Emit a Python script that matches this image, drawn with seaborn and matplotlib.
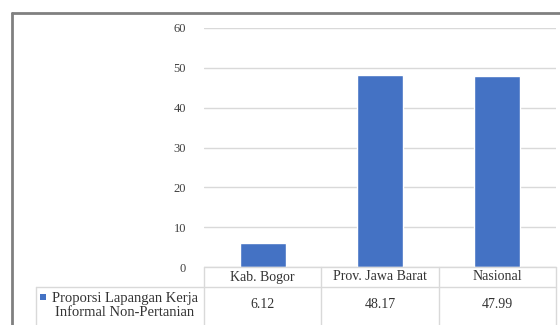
import matplotlib
matplotlib.use("Agg")
import matplotlib.pyplot as plt
from matplotlib.lines import Line2D
from matplotlib.patches import Rectangle
import seaborn as sns
import pandas as pd

categories = ["Kab. Bogor", "Prov. Jawa Barat", "Nasional"]
values = [6.12, 48.17, 47.99]
value_labels = ["6.12", "48.17", "47.99"]
series_name = "Proporsi Lapangan Kerja\nInformal Non-Pertanian"
y_ticks = [0, 10, 20, 30, 40, 50, 60]

sns.set_theme(style="white")
plt.rcParams["font.family"] = "serif"
plt.rcParams["font.serif"] = ["Liberation Serif", "DejaVu Serif"]

W, H = 560, 325
fig = plt.figure(figsize=(W / 100, H / 100), dpi=100)
fig.patch.set_facecolor("white")

def fx(px):
    return px / W

def fy(py):
    return 1 - py / H

ax = fig.add_axes([fx(204), fy(267), fx(556) - fx(204), fy(28) - fy(267)])
df = pd.DataFrame({"cat": categories, "val": values})
sns.barplot(data=df, x="cat", y="val", color="#4472C4", saturation=1,
            width=0.39, ax=ax)
ax.set_ylim(0, 60)
ax.set_xlim(-0.5, len(categories) - 0.5)
ax.set_yticks(y_ticks)
ax.set_xticks([])
ax.set_xlabel("")
ax.set_ylabel("")
ax.yaxis.grid(True, color="#d9d9d9", linewidth=1)
ax.set_axisbelow(True)
for s in ax.spines.values():
    s.set_visible(False)
ax.tick_params(axis="y", length=0, pad=13, labelsize=9, labelcolor="#404040")

grid_col = "#d9d9d9"
txt_col = "#333333"

def hline(x0, x1, y, **kw):
    fig.add_artist(Line2D([fx(x0), fx(x1)], [fy(y), fy(y)], **kw))

def vline(x, y0, y1, **kw):
    fig.add_artist(Line2D([fx(x), fx(x)], [fy(y0), fy(y1)], **kw))

# data table beneath the plot
col_edges = [204, 321, 439, 556]
hline(204, 556, 267, color=grid_col, lw=1)
hline(36, 556, 287, color=grid_col, lw=1)
for xe in col_edges:
    vline(xe, 267, 330, color=grid_col, lw=1)
vline(36, 287, 330, color=grid_col, lw=1)

for i, (c, v) in enumerate(zip(categories, value_labels)):
    xc = ax.transData.transform((i, 0))[0] / fig.dpi / fig.get_figwidth()
    fig.text(xc, fy(277), c, ha="center", va="center", fontsize=10, color=txt_col)
    fig.text(xc, fy(305), v, ha="center", va="center", fontsize=10, color=txt_col)

fig.add_artist(Rectangle((fx(40), fy(300)), fx(6), fy(294) - fy(300),
                         facecolor="#4472C4", edgecolor="none"))
fig.text(fx(125), fy(305.5), series_name, ha="center", va="center",
         multialignment="center", fontsize=10.5, color=txt_col, linespacing=1.12)

# outer chart frame
hline(12, 600, 13, color="#808080", lw=2)
vline(12, 13, 340, color="#808080", lw=2)

fig.savefig("out.png", dpi=100, facecolor="white")
